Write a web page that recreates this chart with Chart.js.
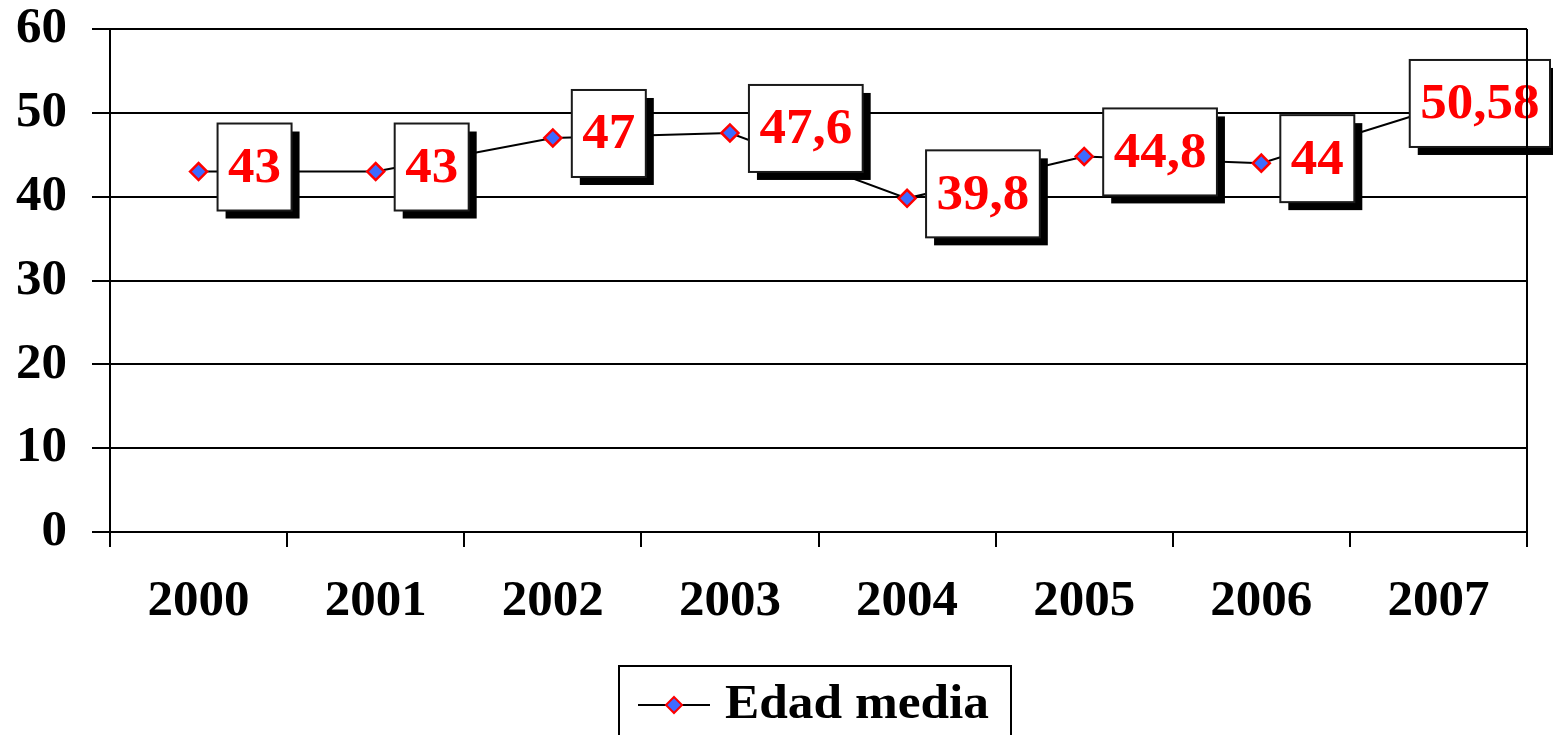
<!DOCTYPE html>
<html>
<head>
<meta charset="utf-8">
<script src="https://cdn.jsdelivr.net/npm/chart.js@4.4.1/dist/chart.umd.min.js"></script>
<style>
  html, body { margin: 0; padding: 0; background: #fff; }
  #wrap { width: 1553px; height: 735px; position: relative; }
</style>
</head>
<body>
<div id="wrap"><canvas id="c"></canvas></div>
<script>
const categories = ['2000', '2001', '2002', '2003', '2004', '2005', '2006', '2007'];
const edadMedia = [43, 43, 47, 47.6, 39.8, 44.8, 44, 50.58];
const seriesName = 'Edad media';
const yTicks = [0, 10, 20, 30, 40, 50, 60];

const FONT = '"Liberation Serif", "Times New Roman", serif';
const SX = 1.06; // horizontal text stretch of the original

const labelBoxes = {
  id: 'labelBoxes',
  afterDatasetsDraw(chart) {
    const ctx = chart.ctx;
    const meta = chart.getDatasetMeta(0);
    const data = chart.data.datasets[0].data;
    ctx.save();
    ctx.font = 'bold 50px ' + FONT;
    meta.data.forEach((pt, i) => {
      const txt = String(data[i]).replace('.', ',');
      const tw = ctx.measureText(txt).width * SX;
      const w = tw + 21;
      const h = 87;
      let left = pt.x + 19;
      if (left + w > chart.width - 3) left = chart.width - 3 - w;
      const top = pt.y - 4.5 - h / 2;
      // shadow
      ctx.fillStyle = '#000';
      ctx.fillRect(left + 8, top + 8, w, h);
      // box
      ctx.fillStyle = '#fff';
      ctx.fillRect(left, top, w, h);
      ctx.lineWidth = 2;
      ctx.strokeStyle = '#1a1a1a';
      ctx.strokeRect(left, top, w, h);
      // text
      ctx.save();
      ctx.translate(left + w / 2, top + h / 2 + 2);
      ctx.scale(SX, 1);
      ctx.fillStyle = '#ff0000';
      ctx.textAlign = 'center';
      ctx.textBaseline = 'middle';
      ctx.fillText(txt, 0, 0);
      ctx.restore();
    });
    ctx.restore();
  },
  afterDraw(chart) {
    const ctx = chart.ctx;
    const a = chart.chartArea;
    ctx.save();
    // right border of plot area
    ctx.strokeStyle = '#000';
    ctx.lineWidth = 2;
    ctx.beginPath();
    ctx.moveTo(a.right, a.top);
    ctx.lineTo(a.right, a.bottom);
    ctx.stroke();
    // legend
    const lx = 619, ly = 666, lw = 392, lh = 90;
    ctx.lineWidth = 2;
    ctx.strokeStyle = '#000';
    ctx.strokeRect(lx, ly, lw, lh);
    const cy = 705;
    ctx.beginPath();
    ctx.moveTo(638, cy);
    ctx.lineTo(710, cy);
    ctx.lineWidth = 2;
    ctx.stroke();
    const ds = chart.data.datasets[0];
    ctx.beginPath();
    ctx.moveTo(674, cy - 8);
    ctx.lineTo(682, cy);
    ctx.lineTo(674, cy + 8);
    ctx.lineTo(666, cy);
    ctx.closePath();
    ctx.fillStyle = ds.pointBackgroundColor;
    ctx.fill();
    ctx.strokeStyle = ds.pointBorderColor;
    ctx.lineWidth = 2;
    ctx.stroke();
    ctx.save();
    ctx.translate(725, cy + 1);
    ctx.scale(1.07, 1);
    ctx.font = 'bold 48px ' + FONT;
    ctx.fillStyle = '#000';
    ctx.textAlign = 'left';
    ctx.textBaseline = 'middle';
    ctx.fillText(ds.label, 0, 0);
    ctx.restore();
    ctx.restore();
  }
};

new Chart(document.getElementById('c'), {
  type: 'line',
  data: {
    labels: categories,
    datasets: [{
      label: seriesName,
      data: edadMedia,
      borderColor: '#000',
      borderWidth: 2,
      pointStyle: 'rectRot',
      pointRadius: 8.5,
      pointBorderWidth: 2.5,
      pointBackgroundColor: '#3d6bff',
      pointBorderColor: '#ff0000',
      tension: 0,
      clip: false
    }]
  },
  options: {
    responsive: true,
    maintainAspectRatio: false,
    animation: false,
    devicePixelRatio: 1,
    layout: { padding: { left: 0, top: 29, right: 26, bottom: 0 } },
    plugins: {
      legend: { display: false },
      tooltip: { enabled: false }
    },
    scales: {
      x: {
        offset: true,
        grid: {
          display: true,
          offset: true,
          drawOnChartArea: false,
          drawTicks: true,
          tickLength: 15,
          color: '#000',
          lineWidth: 2
        },
        border: { color: '#000', width: 2 },
        ticks: {
          color: '#000',
          font: { family: FONT, size: 51, weight: 'bold' },
          padding: 24,
          maxRotation: 0
        },
        afterFit(scale) { scale.height = 203; scale.paddingLeft = 0; scale.paddingRight = 0; }
      },
      y: {
        min: 0,
        max: 60,
        afterBuildTicks(scale) { scale.ticks = yTicks.map(v => ({ value: v })); },
        grid: {
          color: '#000',
          lineWidth: 2,
          tickLength: 18,
          drawTicks: true
        },
        border: { color: '#000', width: 2 },
        ticks: {
          color: '#000',
          font: { family: FONT, size: 51, weight: 'bold' },
          padding: 25
        },
        afterFit(scale) { scale.width = 110; scale.paddingTop = 0; scale.paddingBottom = 0; }
      }
    }
  },
  plugins: [labelBoxes]
});
</script>
</body>
</html>
